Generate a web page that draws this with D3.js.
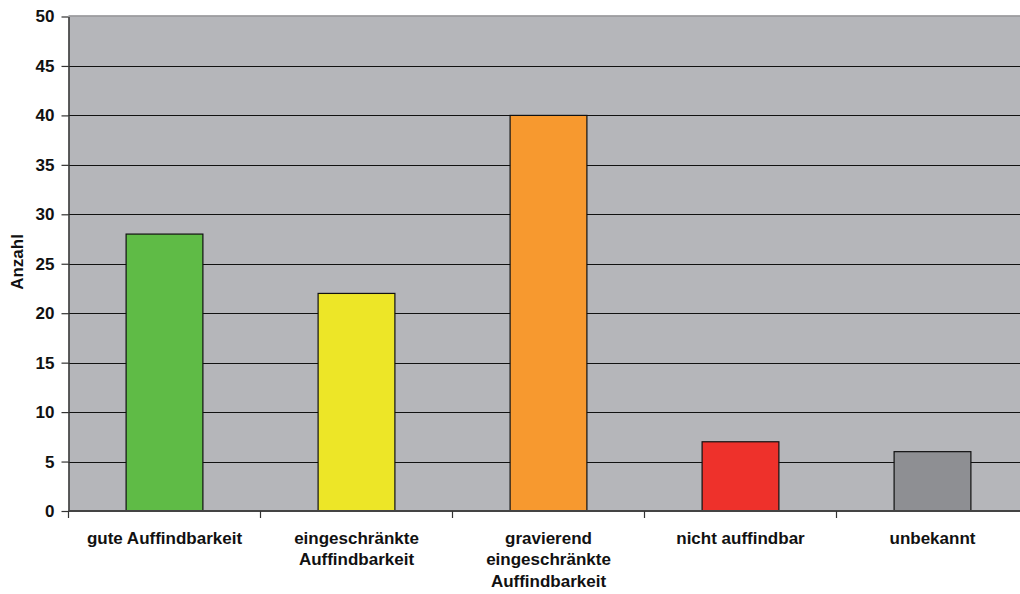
<!DOCTYPE html>
<html>
<head>
<meta charset="utf-8">
<script src="https://cdn.jsdelivr.net/npm/d3@7"></script>
<style>
  html, body { margin: 0; padding: 0; background: #fff; }
  svg { display: block; font-family: "Liberation Sans", Arial, sans-serif; }
</style>
</head>
<body>
<svg id="chart" width="1020" height="594"></svg>
<script>
// Anzahl je Kategorie der Auffindbarkeit
const categories = [
  ["gute Auffindbarkeit"],
  ["eingeschränkte", "Auffindbarkeit"],
  ["gravierend", "eingeschränkte", "Auffindbarkeit"],
  ["nicht auffindbar"],
  ["unbekannt"]
];
const values = [28, 22, 40, 7, 6];
const barColors = ["#5fbb46", "#ede627", "#f7992f", "#ee312b", "#8e8f93"];
const yTicks = [0, 5, 10, 15, 20, 25, 30, 35, 40, 45, 50];
const yTitle = "Anzahl";

const svg = d3.select("#chart");
const plotLeft = 68.5, plotTop = 16.5, plotBottom = 511, catWidth = 192;
const plotRight = plotLeft + catWidth * categories.length;
const fontSize = 17;

const x = d3.scaleBand()
  .domain(d3.range(categories.length))
  .range([plotLeft, plotRight])
  .paddingInner(0.6)
  .paddingOuter(0.3);
const y = d3.scaleLinear().domain([0, 50]).range([plotBottom, plotTop]);

// plot background
svg.append("rect")
  .attr("x", plotLeft).attr("y", plotTop)
  .attr("width", plotRight - plotLeft).attr("height", plotBottom - plotTop)
  .attr("fill", "#b5b6ba");
svg.append("line")
  .attr("x1", plotLeft).attr("x2", plotRight)
  .attr("y1", plotTop - 0.5).attr("y2", plotTop - 0.5)
  .attr("stroke", "#8a8a8e").attr("stroke-width", 1.5);

// horizontal gridlines
svg.append("g").selectAll("line")
  .data(yTicks.filter(t => t > 0 && t < 50))
  .join("line")
  .attr("x1", plotLeft).attr("x2", plotRight)
  .attr("y1", d => Math.round(y(d)) + 0.5).attr("y2", d => Math.round(y(d)) + 0.5)
  .attr("stroke", "#111").attr("stroke-width", 1);

// bars
svg.append("g").selectAll("rect")
  .data(values)
  .join("rect")
  .attr("x", (d, i) => x(i))
  .attr("y", d => y(d))
  .attr("width", x.bandwidth())
  .attr("height", d => plotBottom - y(d))
  .attr("fill", (d, i) => barColors[i])
  .attr("stroke", "#111").attr("stroke-width", 1.2);

// y axis
const yAxis = svg.append("g")
  .attr("transform", `translate(${plotLeft},0)`)
  .call(d3.axisLeft(y).tickValues(yTicks).tickSize(7).tickPadding(7).tickSizeOuter(0));
yAxis.select(".domain").attr("stroke", "#333").attr("stroke-width", 1.5);
yAxis.selectAll(".tick line").attr("stroke", "#333").attr("stroke-width", 1.2);
yAxis.selectAll(".tick text")
  .attr("font-size", fontSize).attr("font-weight", "bold").attr("fill", "#111")
  .attr("font-family", "Liberation Sans, Arial, sans-serif");

// x axis with category boundary ticks
const xAxis = svg.append("g");
xAxis.append("line")
  .attr("x1", plotLeft).attr("x2", plotRight)
  .attr("y1", plotBottom).attr("y2", plotBottom)
  .attr("stroke", "#444").attr("stroke-width", 2);
xAxis.selectAll("line.sep")
  .data(d3.range(categories.length + 1))
  .join("line").attr("class", "sep")
  .attr("x1", i => plotLeft + i * catWidth).attr("x2", i => plotLeft + i * catWidth)
  .attr("y1", plotBottom).attr("y2", plotBottom + 7)
  .attr("stroke", "#333").attr("stroke-width", 1.2);

const labels = xAxis.selectAll("text.cat")
  .data(categories)
  .join("text").attr("class", "cat")
  .attr("text-anchor", "middle")
  .attr("font-size", fontSize).attr("font-weight", "bold").attr("fill", "#111");
labels.each(function(lines, i) {
  const cx = x(i) + x.bandwidth() / 2;
  d3.select(this).selectAll("tspan")
    .data(lines)
    .join("tspan")
    .attr("x", cx)
    .attr("y", (d, k) => 543.5 + k * 21.5)
    .text(d => d);
});

// y axis title
svg.append("text")
  .attr("transform", "translate(23,262) rotate(-90)")
  .attr("text-anchor", "middle")
  .attr("font-size", fontSize).attr("font-weight", "bold").attr("fill", "#111")
  .text(yTitle);
</script>
</body>
</html>
